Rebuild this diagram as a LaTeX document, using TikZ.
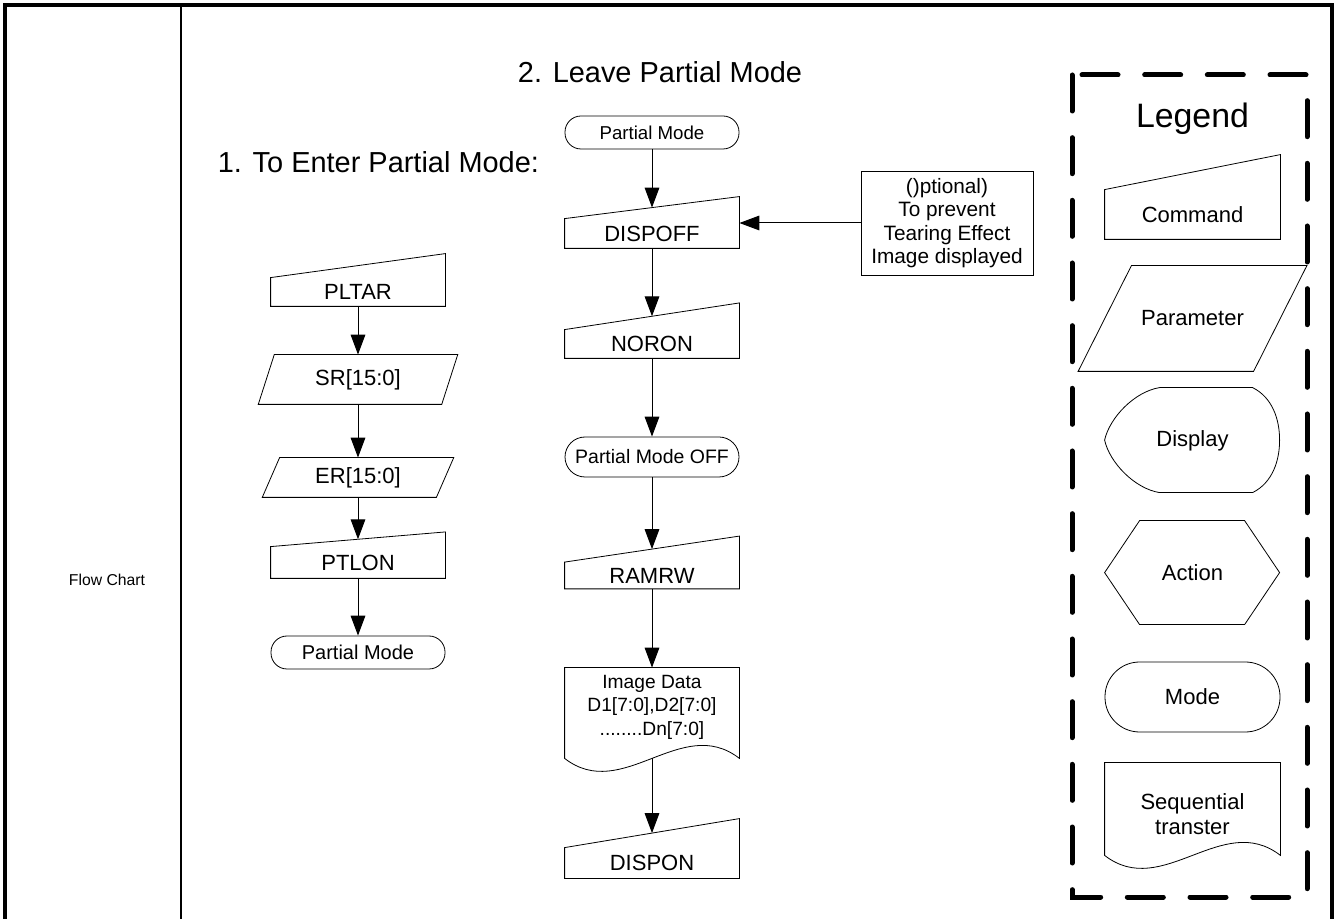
\documentclass[tikz,border=0pt]{standalone}
\usepackage{fontspec}
\setmainfont{Liberation Sans}
\usetikzlibrary{arrows.meta,calc}
\tikzset{
  box/.style={inner sep=0pt,align=center,minimum width=130.5pt,font={\fontsize{16.5}{20}\selectfont}},
  cmd/.style={box,append after command={\pgfextra{\let\shp\tikzlastnode
      \draw (\shp.south west)--(\shp.north west)--([yshift=#1]\shp.north east)--(\shp.south east)--cycle;
      \coordinate (\shp-in) at ([yshift=#1/2]\shp.north);}}},
  prm/.style={box,append after command={\pgfextra{\let\shp\tikzlastnode
      \draw ([xshift=-#1]\shp.south west)--([xshift=#1]\shp.north west)
            --([xshift=#1]\shp.north east)--([xshift=-#1]\shp.south east)--cycle;}}},
  mode/.style={box,draw,rounded corners=#1},
  doc/.style={box,append after command={\pgfextra{\let\shp\tikzlastnode
      \draw (\shp.north west)--([yshift=-#1]\shp.south west)
            .. controls +(58,45) and +(-58,-45) .. ([yshift=-#1]\shp.south east)
            --(\shp.north east)--cycle;
      \coordinate (\shp-out) at ([yshift=-#1]\shp.south);}}},
  disp/.style={box,minimum width=131.25pt,minimum height=78.75pt,append after command={\pgfextra{\let\shp\tikzlastnode
      \draw[shift={(\shp.north west)}] (55,0)--(148,0) .. controls (168,10) and (175,32) .. (175,52.5)
            .. controls (175,73) and (168,95) .. (148,105)--(55,105) .. controls (30,101) and (5,75) .. (0,52.5)
            .. controls (5,30) and (30,4) .. (55,0)--cycle;}}},
  act/.style={box,minimum width=131.25pt,minimum height=78pt,append after command={\pgfextra{\let\shp\tikzlastnode
      \draw[shift={(\shp.north west)}] (0,52)--(35,0)--(140,0)--(175,52)--(140,104)--(35,104)--cycle;}}},
  arr/.style={-{Triangle[length=15pt,width=11pt]},line width=0.75pt},
  ttl/.style={font={\fontsize{21.7}{25}\selectfont}},
  legendbox/.style={line width=3.75pt,line cap=round,dash pattern=on 27pt off 20pt},
}
\begin{document}
\begin{tikzpicture}[x=0.75pt,y=-0.75pt,line width=0.6pt]
  \useasboundingbox (0,0) rectangle (1340,919);
  % ===== frame =====
  \draw[line width=3pt] (5,919)--(5,5)--(1332,5)--(1332,919);
  \draw[line width=1.6pt] (181,5)--(181,919);
  \node[font={\fontsize{11.8}{14}\selectfont}] (fc) at (107,580){Flow Chart};

  % ===== 1. enter partial mode =====
  \node[ttl,anchor=west] (t1) at (213,162){1. To Enter Partial Mode:};
  \node[cmd=18pt,minimum height=21pt] (pltar) at (358,292){PLTAR};
  \node[prm=6pt,minimum width=137pt,minimum height=36.75pt] (sr) at (358,379.5){SR[15:0]};
  \node[prm=6.5pt,minimum width=130pt,minimum height=29.25pt] (er) at (358,477.5){ER[15:0]};
  \node[cmd=11pt,minimum height=23.25pt] (ptlon) at (358,562.5){PTLON};
  \node[mode=12pt,minimum height=24.75pt,font={\fontsize{15}{18}\selectfont}] (pm1) at (358,652.5){Partial Mode};
  \draw[arr] (pltar)--(sr); \draw[arr] (sr)--(er);
  \draw[arr] (er)--(ptlon-in); \draw[arr] (ptlon)--(pm1);

  % ===== 2. leave partial mode =====
  \node[ttl] (t2) at (660,72){2. Leave Partial Mode};
  \node[mode=12pt,minimum height=24.75pt,font={\fontsize{14}{17}\selectfont}] (pm2) at (652,132.5){Partial Mode};
  \node[cmd=16.5pt,minimum height=21.75pt] (dispoff) at (652,233.5){DISPOFF};
  \node[cmd=20pt,minimum height=21pt] (noron) at (652,344){NORON};
  \node[mode=15pt,minimum height=30pt,font={\fontsize{14.6}{17}\selectfont}] (pmoff) at (652,457){Partial Mode OFF};
  \node[cmd=19.5pt,minimum height=19.5pt] (ramrw) at (652,575.5){RAMRW};
  \node[doc=9pt,minimum height=58.5pt,font={\fontsize{14.4}{17.6}\selectfont}] (img) at (652,707)
       {Image Data\\D1[7:0],D2[7:0]\\........Dn[7:0]};
  \node[cmd=21.75pt,minimum height=22.5pt] (dispon) at (652,863){DISPON};
  \node[box,draw,minimum width=129pt,minimum height=78pt,font={\fontsize{15.6}{17.5}\selectfont}] (note) at (947,223)
       {()ptional)\\To prevent\\Tearing Effect\\Image displayed};
  \draw[arr] (pm2)--(dispoff-in); \draw[arr] (dispoff)--(noron-in);
  \draw[arr] (noron)--(pmoff); \draw[arr] (pmoff)--(ramrw-in);
  \draw[arr] (ramrw)--(img); \draw[arr] (img-out)--(dispon-in);
  \draw[arr] (note.west)--(note.west -| dispoff.east);

  % ===== legend =====
  \draw[legendbox] (1072,75) rectangle (1307,897);
  \node[font={\fontsize{25.4}{30}\selectfont}] (lg) at (1192.5,119){Legend};
  \node[cmd=26.25pt,minimum width=131.25pt,minimum height=36.75pt] (lcmd) at (1192.5,214.5){Command};
  \node[prm=20pt,minimum width=131pt,minimum height=78.75pt] (lpar) at (1192.5,318.5){Parameter};
  \node[disp] (ldisp) at (1192.5,440.5){Display};
  \node[act] (lact) at (1192.5,573){Action};
  \node[mode=26pt,minimum width=131.25pt,minimum height=52.5pt] (lmode) at (1192.5,697){Mode};
  \node[doc=-8.25pt,minimum width=131.25pt,minimum height=77.25pt,font={\fontsize{16.5}{18.75}\selectfont}] (lseq) at (1192.5,814.5)
       {Sequential\\transter};
\end{tikzpicture}
\end{document}
